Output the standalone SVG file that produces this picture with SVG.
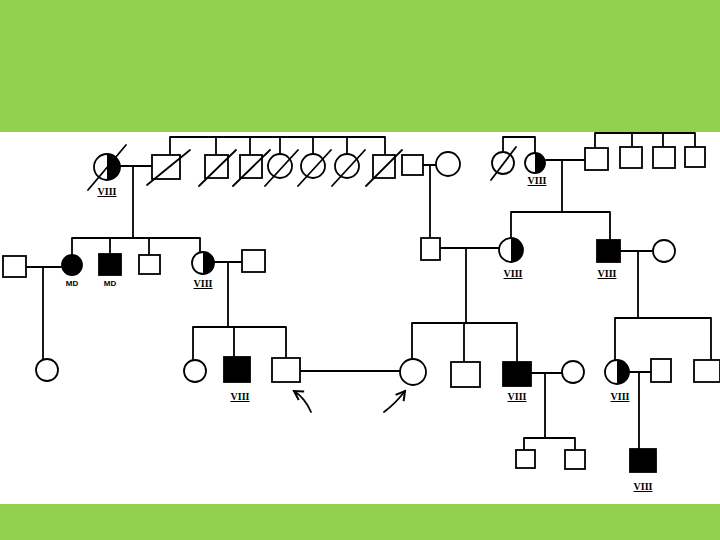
<svg xmlns="http://www.w3.org/2000/svg" width="720" height="540" viewBox="0 0 720 540">
<defs>
<style>
.s{fill:none;stroke:#000;stroke-width:1.8;stroke-linecap:round;stroke-linejoin:round}
.w{fill:#fff;stroke:#000;stroke-width:1.8}
.b{fill:#000;stroke:#000;stroke-width:1.8}
.h{fill:#000;stroke:none}
.l{font-family:"Liberation Serif",serif;font-weight:bold;font-size:10px;text-anchor:middle;text-decoration:underline}
.m{font-family:"Liberation Sans",sans-serif;font-weight:bold;font-size:8px;text-anchor:middle}
</style>
<marker id="ah" viewBox="0 0 10 10" refX="8" refY="5" markerWidth="7" markerHeight="7" orient="auto-start-reverse">
<path d="M1,1 L8,5 L1,9" fill="none" stroke="#000" stroke-width="1.6"/>
</marker>
</defs>
<rect x="0" y="0" width="720" height="540" fill="#fff"/>
<rect x="0" y="0" width="720" height="132" fill="#92d050"/>
<rect x="0" y="504" width="720" height="36" fill="#92d050"/>

<g id="connectors" class="s">
<!-- top-left family -->
<path d="M120,166 H152"/>
<path d="M133,166 V238"/>
<path d="M170,155 V137 H385 V155"/>
<path d="M216,155 V137"/><path d="M250,155 V137"/><path d="M280,154 V137"/><path d="M313,154 V137"/><path d="M347,154 V137"/>
<!-- couple 423/448 -->
<path d="M423,165 H436"/>
<path d="M430,165 V238"/>
<!-- top right -->
<path d="M503,152 V137 H535 V153"/>
<path d="M546,160 H585"/>
<path d="M562,160 V212"/>
<path d="M595,148 V133 H695 V147"/><path d="M632,147 V133"/><path d="M663,147 V133"/>
<path d="M511,238 V212 H610 V240"/>
<path d="M620,251 H652"/>
<path d="M638,251 V318"/>
<path d="M440,248 H499"/>
<path d="M466,248 V323"/>
<!-- middle left -->
<path d="M72,254 V238 H200 V252"/><path d="M110,254 V238"/><path d="M149,254 V238"/>
<path d="M26,267 H61"/>
<path d="M43,267 V359"/>
<path d="M214,262 H242"/>
<path d="M228,262 V327"/>
<path d="M193,359 V327 H286 V358"/><path d="M234,357 V327"/>
<path d="M300,371 H400"/>
<!-- middle right -->
<path d="M412,359 V323 H517 V362"/><path d="M464,362 V323"/>
<path d="M531,373 H562"/>
<path d="M545,373 V438"/>
<path d="M524,450 V438 H575 V450"/>
<path d="M615,360 V318 H711 V360"/>
<path d="M628,372 H651"/>
<path d="M639,372 V449"/>
<!-- arrows -->
<path d="M311,412 Q305,398 294,391" marker-end="url(#ah)"/>
<path d="M384,412 Q395,404 405,391" marker-end="url(#ah)"/>
</g>

<g id="p1"><circle class="w" cx="107" cy="167" r="13"/><path class="h" d="M107,154 A13,13 0 0 1 107,180 Z"/><path class="s" d="M88,190 L126,145"/><text class="l" x="107" y="195">VIII</text></g>
<g id="p2"><rect class="w" x="152" y="155" width="28" height="24"/><path class="s" d="M147,185 L190,150"/></g>
<g id="p3"><rect class="w" x="205" y="155" width="23" height="23"/><path class="s" d="M199,186 L236,150"/></g>
<g id="p4"><rect class="w" x="240" y="155" width="22" height="23"/><path class="s" d="M233,186 L270,150"/></g>
<g id="p5"><circle class="w" cx="280" cy="166" r="12"/><path class="s" d="M265,186 L298,150"/></g>
<g id="p6"><circle class="w" cx="313" cy="166" r="12"/><path class="s" d="M298,186 L331,150"/></g>
<g id="p7"><circle class="w" cx="347" cy="166" r="12"/><path class="s" d="M332,186 L365,150"/></g>
<g id="p8"><rect class="w" x="373" y="155" width="22" height="23"/><path class="s" d="M366,186 L402,150"/></g>
<g id="p9"><rect class="w" x="402" y="155" width="21" height="20"/></g>
<g id="p10"><circle class="w" cx="448" cy="164" r="12"/></g>

<g id="p11"><circle class="w" cx="503" cy="163" r="11"/><path class="s" d="M491,180 L516,147"/></g>
<g id="p12"><circle class="w" cx="535" cy="163" r="10"/><path class="h" d="M535,153 A10,10 0 0 1 535,173 Z"/><text class="l" x="537" y="184">VIII</text></g>
<g id="p13"><rect class="w" x="585" y="148" width="23" height="22"/></g>
<g id="p14"><rect class="w" x="620" y="147" width="22" height="21"/></g>
<g id="p15"><rect class="w" x="653" y="147" width="22" height="21"/></g>
<g id="p16"><rect class="w" x="685" y="147" width="20" height="20"/></g>

<g id="p17"><rect class="w" x="421" y="238" width="19" height="22"/></g>
<g id="p18"><circle class="w" cx="511" cy="250" r="12"/><path class="h" d="M511,238 A12,12 0 0 1 511,262 Z"/><text class="l" x="513" y="277">VIII</text></g>
<g id="p19"><rect class="b" x="597" y="240" width="23" height="22"/><text class="l" x="607" y="277">VIII</text></g>
<g id="p20"><circle class="w" cx="664" cy="251" r="11"/></g>

<g id="p21"><rect class="w" x="3" y="256" width="23" height="21"/></g>
<g id="p22"><circle class="b" cx="72" cy="265" r="10"/><text class="m" x="72" y="286">MD</text></g>
<g id="p23"><rect class="b" x="99" y="254" width="22" height="21"/><text class="m" x="110" y="286">MD</text></g>
<g id="p24"><rect class="w" x="139" y="255" width="21" height="19"/></g>
<g id="p25"><circle class="w" cx="203" cy="263" r="11"/><path class="h" d="M203,252 A11,11 0 0 1 203,274 Z"/><text class="l" x="203" y="287">VIII</text></g>
<g id="p26"><rect class="w" x="242" y="250" width="23" height="22"/></g>

<g id="p27"><circle class="w" cx="47" cy="370" r="11"/></g>
<g id="p28"><circle class="w" cx="195" cy="371" r="11"/></g>
<g id="p29"><rect class="b" x="224" y="357" width="26" height="25"/><text class="l" x="240" y="400">VIII</text></g>
<g id="p30"><rect class="w" x="272" y="358" width="28" height="24"/></g>
<g id="p31"><circle class="w" cx="413" cy="372" r="13"/></g>
<g id="p32"><rect class="w" x="451" y="362" width="29" height="25"/></g>
<g id="p33"><rect class="b" x="503" y="362" width="28" height="24"/><text class="l" x="517" y="400">VIII</text></g>
<g id="p34"><circle class="w" cx="573" cy="372" r="11"/></g>
<g id="p35"><rect class="w" x="516" y="450" width="19" height="18"/></g>
<g id="p36"><rect class="w" x="565" y="450" width="20" height="19"/></g>
<g id="p37"><circle class="w" cx="617" cy="372" r="12"/><path class="h" d="M617,360 A12,12 0 0 1 617,384 Z"/><text class="l" x="620" y="400">VIII</text></g>
<g id="p38"><rect class="w" x="651" y="359" width="20" height="23"/></g>
<g id="p39"><rect class="w" x="694" y="360" width="26" height="22"/></g>
<g id="p40"><rect class="b" x="630" y="449" width="26" height="23"/><text class="l" x="643" y="490">VIII</text></g>
</svg>
